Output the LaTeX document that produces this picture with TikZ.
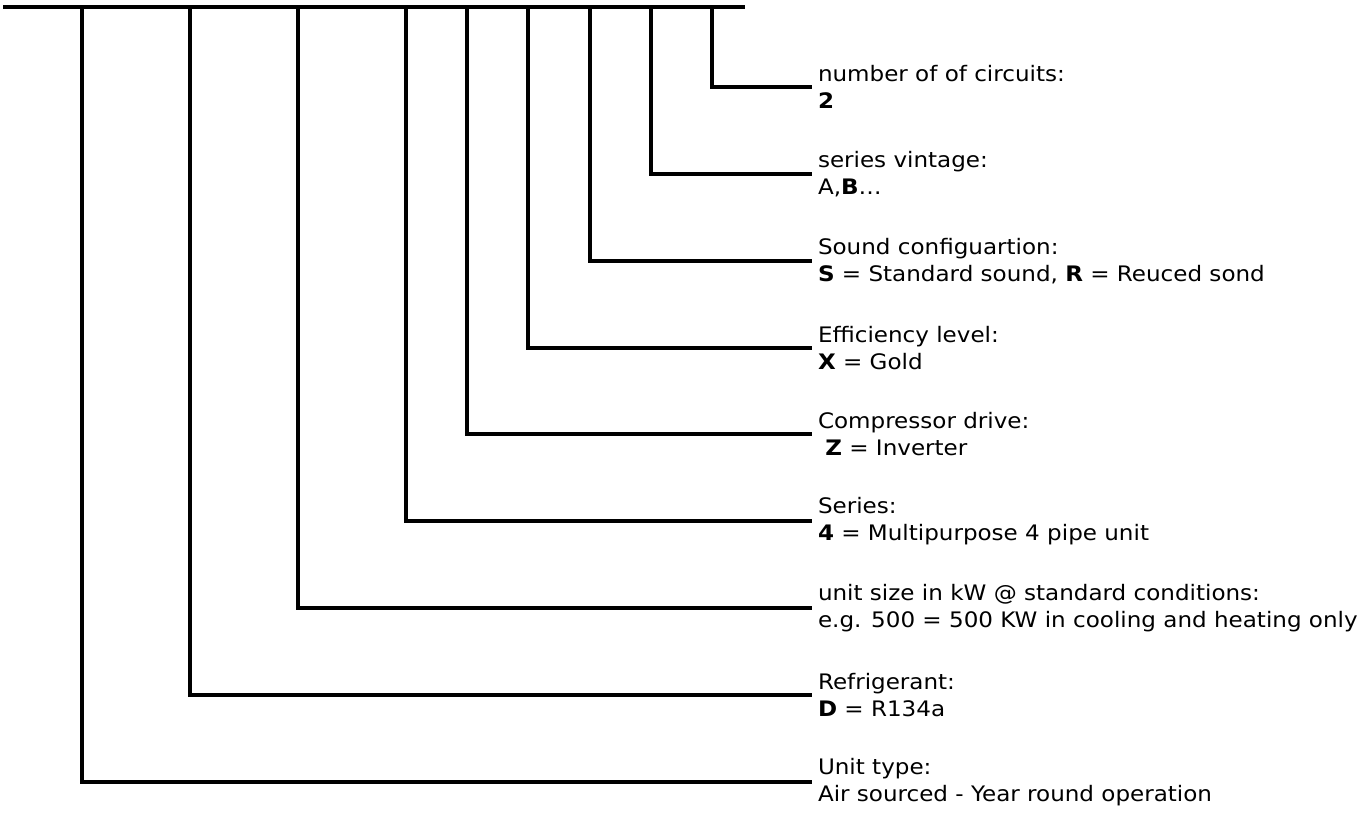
\documentclass[tikz,border=0pt]{standalone}
\usepackage{fontspec}
\setmainfont{DejaVu Sans}[FakeStretch=1.08]
\begin{document}
\begin{tikzpicture}[x=0.75pt,y=-0.75pt,
  lab/.style={anchor=west,align=left,inner sep=0pt,outer sep=0pt,
    font=\fontsize{16}{20.25}\selectfont},
  conn/.style={line width=2.6pt,line join=miter},
  bar/.style={line width=2.6pt}]
\useasboundingbox (0,0) rectangle (1364,814);
% top bar
\coordinate (L) at (3,7);
\coordinate (R) at (745,7);
\draw[bar] (L) -- (R);
% tap points
\foreach \n/\x in {a/82,b/190,c/298,d/406,e/467,f/528,g/590,h/651,i/712}
  \coordinate (t\n) at (\x,7);
% labels
\node[lab] (li) at (818,87)  {number of of circuits:\\\textbf{2}};
\node[lab] (lh) at (818,174) {series vintage:\\A,\textbf{B}…};
\node[lab] (lg) at (818,261) {Sound configuartion:\\\textbf{S} = Standard sound, \textbf{R} = Reuced sond};
\node[lab] (lf) at (818,348) {Efficiency level:\\\textbf{X} = Gold};
\node[lab] (le) at (818,434) {Compressor drive:\\\ \textbf{Z} = Inverter};
\node[lab] (ld) at (818,521) {Series:\\\textbf{4} = Multipurpose 4 pipe unit};
\node[lab] (lc) at (818,608) {unit size in kW @ standard conditions:\\e.g. 500 = 500 KW in cooling and heating only};
\node[lab] (lb) at (818,695) {Refrigerant:\\\textbf{D} = R134a};
\node[lab] (la) at (818,782) {Unit type:\\Air sourced - Year round operation};
% connectors
\foreach \n in {a,b,c,d,e,f,g,h,i}
  \draw[conn] (t\n) |- ([xshift=-4.5pt]l\n.west);
\end{tikzpicture}
\end{document}
